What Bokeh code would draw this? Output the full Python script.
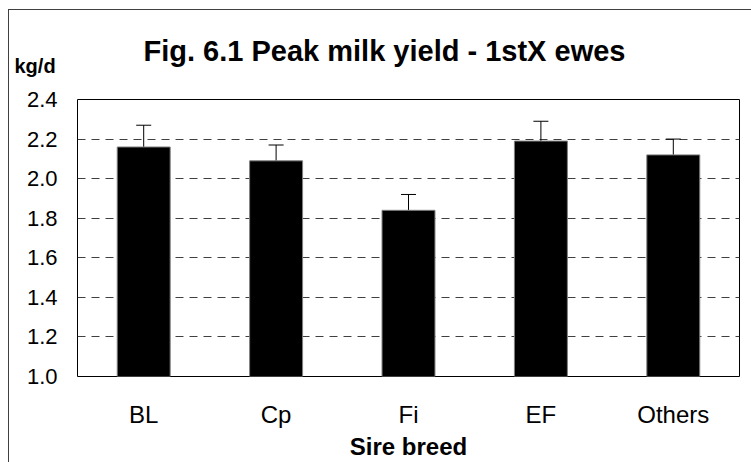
from bokeh.plotting import figure
from bokeh.models import (ColumnDataSource, FactorRange, Range1d, FixedTicker,
                          Whisker, TeeHead, Title)
from bokeh.embed import file_html
from bokeh.resources import INLINE

categories = ["BL", "Cp", "Fi", "EF", "Others"]
means = [2.16, 2.09, 1.84, 2.19, 2.12]
upper = [2.27, 2.17, 1.92, 2.29, 2.20]
y_ticks = [1.0, 1.2, 1.4, 1.6, 1.8, 2.0, 2.2, 2.4]
y_tick_labels = ["1.0", "1.2", "1.4", "1.6", "1.8", "2.0", "2.2", "2.4"]

src = ColumnDataSource(dict(cat=categories, mean=means, up=upper))

FONT = "Liberation Sans"

p = figure(x_range=FactorRange(*categories), y_range=Range1d(1.0, 2.4),
           width=751, height=462, output_backend="svg", toolbar_location=None,
           title_location=None,
           min_border_left=77, min_border_right=12, min_border_top=99,
           min_border_bottom=85)
p.border_fill_color = None
p.background_fill_color = "white"
p.styles = {
    "background-color": "white",
    "background-image": "linear-gradient(#404040, #404040), linear-gradient(#404040, #404040)",
    "background-size": "1px 100%, 100% 1px",
    "background-position": "8px 9px, 8px 9px",
    "background-repeat": "no-repeat",
}

p.vbar(x="cat", top="mean", bottom=1.0, width=0.4, source=src,
       fill_color="black", line_color="#808080", line_width=1)

p.add_layout(Whisker(source=src, base="cat", lower="mean", upper="up",
                     dimension="height", line_color="black", line_width=1,
                     upper_head=TeeHead(size=15, line_color="black", line_width=1),
                     lower_head=None))

kg_title = Title(text="kg/d", text_font=FONT, text_font_size="20px",
                 text_font_style="bold", text_color="black", align="left",
                 offset=-63, standoff=46)
main_title = Title(text="Fig. 6.1 Peak milk yield - 1stX ewes", text_font=FONT,
                   text_font_size="29px", text_font_style="bold",
                   text_color="black", align="left", offset=66, standoff=-75)
p.add_layout(kg_title, "above")
p.add_layout(main_title, "above")

p.outline_line_color = "black"
p.outline_line_width = 1
p.xgrid.visible = False
p.ygrid.grid_line_color = "#404040"
p.ygrid.grid_line_dash = "8 6"
p.ygrid.grid_line_width = 1

p.yaxis.ticker = FixedTicker(ticks=y_ticks)
p.yaxis.major_label_overrides = {t: l for t, l in zip(y_ticks, y_tick_labels)}
p.yaxis.axis_line_color = None
p.yaxis.major_tick_line_color = None
p.yaxis.minor_tick_line_color = None
p.yaxis.major_tick_out = 0
p.yaxis.major_label_standoff = 20
p.yaxis.major_label_text_font = FONT
p.yaxis.major_label_text_font_size = "22px"
p.yaxis.major_label_text_color = "black"

p.xaxis.axis_line_color = None
p.xaxis.major_tick_line_color = None
p.xaxis.major_tick_out = 0
p.xaxis.major_label_standoff = 24
p.xaxis.major_label_text_font = FONT
p.xaxis.major_label_text_font_size = "24px"
p.xaxis.major_label_text_color = "black"
p.xaxis.axis_label = "Sire breed"
p.xaxis.axis_label_text_font = FONT
p.xaxis.axis_label_text_font_size = "24px"
p.xaxis.axis_label_text_font_style = "bold"
p.xaxis.axis_label_text_color = "black"
p.xaxis.axis_label_standoff = 2

open("out.html", "w").write(file_html(p, INLINE))
